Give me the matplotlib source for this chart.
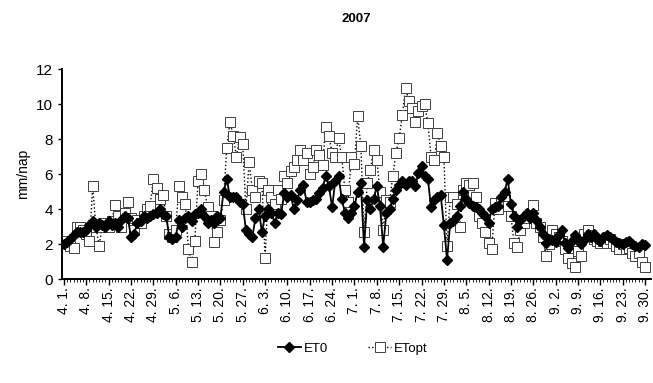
import matplotlib
matplotlib.use("Agg")
import matplotlib.pyplot as plt
import numpy as np

plt.rcParams['font.family'] = ['Liberation Sans', 'DejaVu Sans']

# daily values, 1 April - 30 September 2007 (one row = one week)
et0 = [
    2.0, 2.1, 2.3, 2.5, 2.7, 2.7, 2.7,
    2.8, 3.1, 3.3, 3.0, 3.2, 3.1, 3.0,
    3.3, 3.1, 3.2, 3.0, 3.4, 3.6, 3.5,
    2.4, 2.6, 3.2, 3.3, 3.6, 3.5, 3.6,
    3.7, 3.8, 4.0, 3.7, 3.6, 2.4, 2.3,
    2.4, 3.4, 3.0, 3.5, 3.6, 3.3, 3.7,
    3.8, 4.0, 3.6, 3.2, 3.4, 3.2, 3.6,
    3.5, 5.0, 5.7, 4.7, 4.7, 4.7, 4.4,
    4.3, 2.8, 2.6, 2.4, 3.5, 4.0, 2.7,
    3.6, 4.0, 3.8, 3.2, 3.8, 3.7, 4.9,
    4.7, 4.8, 4.0, 4.5, 5.1, 5.4, 4.4,
    4.4, 4.5, 4.6, 4.9, 5.2, 5.9, 5.3,
    4.1, 5.6, 5.9, 4.6, 3.8, 3.5, 3.8,
    4.15, 5.0, 5.5, 1.85, 4.5, 4.0, 4.6,
    5.3, 4.15, 1.85, 3.8, 4.0, 4.6, 5.1,
    5.4, 5.6, 5.4, 5.6, 5.6, 5.3, 6.05,
    6.45, 5.9, 5.7, 4.1, 4.5, 4.7, 4.8,
    3.1, 1.1, 3.2, 3.3, 3.6, 4.15, 5.0,
    4.6, 4.35, 4.2, 4.1, 4.0, 3.8, 3.6,
    3.2, 4.0, 4.1, 4.15, 4.7, 5.0, 5.7,
    4.3, 3.6, 3.0, 3.4, 3.6, 3.8, 3.5,
    3.8, 3.4, 3.0, 2.6, 2.05, 2.3, 2.25,
    2.1, 2.5, 2.8, 2.05, 1.8, 2.2, 2.5,
    2.3, 2.0, 2.25, 2.6, 2.4, 2.6, 2.3,
    2.2, 2.4, 2.5, 2.4, 2.3, 2.1, 2.05,
    2.0, 2.1, 2.15, 2.0, 1.9, 1.85, 2.0,
    1.95,
]

etopt = [
    2.05, 2.2, 1.9, 1.8, 3.0, 3.0, 2.8,
    2.6, 2.15, 5.3, 3.0, 1.9, 3.0, 3.2,
    3.0, 3.3, 4.25, 3.6, 3.0, 3.8, 4.4,
    3.5, 2.8, 3.4, 3.2, 3.6, 4.0, 4.2,
    5.7, 5.2, 4.6, 4.8, 3.6, 2.6, 2.4,
    2.8, 5.3, 4.7, 4.3, 1.7, 1.0, 2.2,
    5.6, 6.0, 5.1, 4.1, 3.6, 2.1, 2.7,
    3.4, 4.5, 7.5, 9.0, 8.2, 7.0, 8.1,
    7.7, 4.0, 6.7, 5.1, 4.7, 5.6, 5.5,
    1.2, 5.1, 4.7, 4.3, 5.1, 4.6, 5.9,
    5.5, 6.2, 6.4, 6.8, 7.4, 6.8, 7.2,
    6.0, 6.4, 7.4, 7.1, 6.5, 8.7, 8.15,
    7.2, 7.0, 8.05, 7.0, 5.1, 4.4, 7.0,
    6.6, 9.3, 7.6, 2.7, 5.5, 6.25, 7.4,
    6.8, 5.0, 2.8, 4.5, 4.4, 5.9, 7.2,
    8.05, 9.4, 10.9, 10.2, 9.8, 9.0, 9.6,
    9.9, 10.0, 8.9, 7.0, 6.8, 8.35, 7.6,
    7.0, 1.9, 4.7, 4.7, 4.3, 3.0, 5.1,
    5.5, 5.4, 5.5, 4.7, 3.6, 3.2, 2.7,
    2.05, 1.7, 4.35, 4.0, 4.35, 4.5, 4.15,
    3.6, 2.05, 1.85, 2.8, 3.2, 3.5, 3.7,
    4.25, 3.2, 3.0, 2.4, 1.3, 2.0, 2.8,
    2.6, 2.4, 2.2, 1.7, 1.2, 0.9, 0.7,
    1.6, 1.3, 2.6, 2.8, 2.5, 2.3, 2.2,
    2.05, 2.2, 2.05, 2.3, 2.05, 1.9, 1.7,
    2.0, 1.7, 1.8, 1.5, 1.3, 1.5, 1.0,
    0.7,
]

tick_labels = ['4. 1.', '4. 8.', '4. 15.', '4. 22.', '4. 29.', '5. 6.', '5. 13.',
               '5. 20.', '5. 27.', '6. 3.', '6. 10.', '6. 17.', '6. 24.', '7. 1.',
               '7. 8.', '7. 15.', '7. 22.', '7. 29.', '8. 5.', '8. 12.', '8. 19.',
               '8. 26.', '9. 2.', '9. 9.', '9. 16.', '9. 23.', '9. 30.']

days = np.arange(len(et0))

fig = plt.figure(figsize=(6.53, 3.83), dpi=100)
ax = fig.add_axes([0.095, 0.2715, 0.902, 0.548])

ax.plot(days, etopt, linestyle=':', color='black', linewidth=1.0,
        marker='s', markersize=6.5, markerfacecolor='white',
        markeredgecolor='0.25', markeredgewidth=0.7, label='ETopt', zorder=2)
ax.plot(days, et0, linestyle='-', color='black', linewidth=1.3,
        marker='D', markersize=5.5, markerfacecolor='black',
        markeredgecolor='black', label='ET0', zorder=3)

ax.set_xlim(-0.6, 183.9)
ax.set_ylim(0, 12)
ax.set_yticks(range(0, 13, 2))
ax.set_xticks(days[::7])
ax.set_xticklabels(tick_labels, rotation=90, fontsize=10)
ax.set_xticks(days, minor=True)
ax.tick_params(axis='x', which='major', length=4, width=1, direction='out', pad=2)
ax.tick_params(axis='x', which='minor', length=2, width=0.6, direction='out')
ax.tick_params(axis='y', length=3, width=1, direction='out', labelsize=11)

for s in ['top', 'right']:
    ax.spines[s].set_visible(False)
for s in ['left', 'bottom']:
    ax.spines[s].set_linewidth(1.4)

ax.set_ylabel('mm/nap', fontsize=10)
ax.set_title('2007', fontsize=9.5, fontweight='bold', pad=34)

handles, labels = ax.get_legend_handles_labels()
fig.legend(handles[::-1], labels[::-1], loc='center', bbox_to_anchor=(0.54, 0.09),
           ncol=2, frameon=False, fontsize=9.5, handlelength=1.8,
           handletextpad=0.2, columnspacing=3.0)

fig.savefig('out.png', dpi=100)
